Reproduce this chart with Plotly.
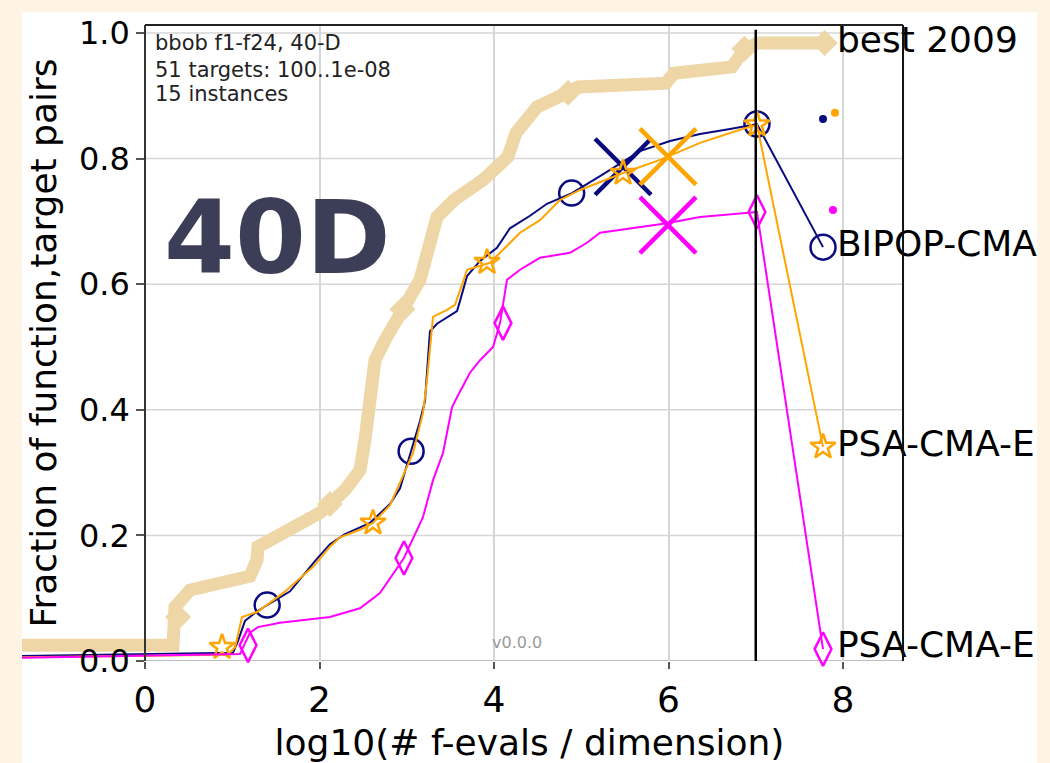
import plotly.graph_objects as go

# ---------------- data (log10 f-evals/dim, fraction of function-target pairs) ----------------
best_x = [-1.410, 0.321, 0.344, 0.516, 1.203, 1.284, 1.295, 1.662, 2.006, 2.292, 2.464, 2.521,
          2.579, 2.602, 2.636, 2.751, 2.923, 3.060, 3.152, 3.347, 3.542, 3.874, 4.160, 4.252,
          4.493, 4.733, 4.963, 5.971, 6.063, 6.728, 6.865, 7.014, 7.771]
best_y = [0.025, 0.025, 0.086, 0.113, 0.135, 0.161, 0.182, 0.209, 0.236, 0.272, 0.304, 0.352,
          0.404, 0.447, 0.479, 0.511, 0.556, 0.586, 0.607, 0.707, 0.734, 0.766, 0.803, 0.841,
          0.882, 0.898, 0.914, 0.920, 0.936, 0.946, 0.973, 0.984, 0.984]
best_mk_x = [0.38, 2.12, 2.95, 4.85, 6.87, 7.79]
best_mk_y = [0.07, 0.25, 0.56, 0.905, 0.975, 0.984]

bipop_x = [-1.410, 1.009, 1.066, 1.146, 1.295, 1.662, 1.948, 2.120, 2.292, 2.579, 2.808, 2.923,
           3.049, 3.152, 3.209, 3.266, 3.347, 3.576, 3.610, 3.691, 3.840, 4.034, 4.183, 4.413,
           4.607, 4.894, 5.215, 5.673, 6.017, 6.361, 6.705, 7.014, 7.771]
bipop_y = [0.008, 0.013, 0.032, 0.064, 0.080, 0.111, 0.159, 0.186, 0.202, 0.220, 0.250, 0.275,
           0.334, 0.382, 0.414, 0.525, 0.537, 0.557, 0.573, 0.613, 0.637, 0.658, 0.689, 0.709,
           0.728, 0.745, 0.772, 0.812, 0.828, 0.839, 0.847, 0.855, 0.659]
bipop_mk_x = [1.40, 3.05, 4.89, 7.014, 7.771]
bipop_mk_y = [0.089, 0.334, 0.745, 0.855, 0.659]
bipop_cross = (5.479, 0.787)
bipop_dot = (7.771, 0.863)

psa1_x = [-1.410, 0.951, 1.032, 1.112, 1.284, 1.582, 1.926, 2.120, 2.235, 2.464, 2.613, 2.808,
          3.072, 3.186, 3.232, 3.266, 3.301, 3.461, 3.553, 3.633, 3.691, 3.954, 4.298, 4.527,
          4.756, 4.986, 5.479, 5.903, 6.361, 6.819, 7.014, 7.771]
psa1_y = [0.006, 0.010, 0.022, 0.070, 0.078, 0.108, 0.150, 0.182, 0.197, 0.209, 0.220, 0.248,
          0.331, 0.395, 0.447, 0.500, 0.548, 0.559, 0.567, 0.599, 0.623, 0.634, 0.682, 0.702,
          0.734, 0.750, 0.777, 0.798, 0.825, 0.846, 0.854, 0.341]
psa1_mk_x = [0.883, 2.613, 3.920, 5.479, 7.014, 7.771]
psa1_mk_y = [0.022, 0.220, 0.635, 0.777, 0.854, 0.341]
psa1_cross = (5.994, 0.803)
psa1_dot = (7.908, 0.873)

psa2_x = [-1.410, 1.089, 1.135, 1.203, 1.295, 1.547, 2.120, 2.464, 2.693, 2.968, 3.186, 3.301,
          3.415, 3.519, 3.576, 3.725, 3.840, 3.989, 4.069, 4.103, 4.149, 4.298, 4.527, 4.871,
          5.066, 5.215, 5.673, 5.983, 6.361, 6.819, 7.014, 7.771]
psa2_y = [0.005, 0.011, 0.025, 0.045, 0.054, 0.061, 0.070, 0.084, 0.108, 0.164, 0.229, 0.288,
          0.331, 0.404, 0.420, 0.459, 0.479, 0.500, 0.538, 0.570, 0.607, 0.623, 0.642, 0.650,
          0.666, 0.682, 0.691, 0.697, 0.707, 0.713, 0.715, 0.019]
psa2_mk_x = [1.181, 2.968, 4.103, 7.014, 7.771]
psa2_mk_y = [0.025, 0.164, 0.538, 0.715, 0.019]
psa2_cross = (5.994, 0.694)
psa2_dot = (7.885, 0.718)

label_names = ["best 2009", "BIPOP-CMA", "PSA-CMA-E", "PSA-CMA-E"]
label_y = [0.984, 0.659, 0.341, 0.021]
label_x = 7.93

x_ticks = [0, 2, 4, 6, 8]
y_ticks = [0.0, 0.2, 0.4, 0.6, 0.8, 1.0]
budget_x = 7.0
x_right = 8.688

header_lines = ["bbob f1-f24, 40-D", "51 targets: 100..1e-08", "15 instances"]
header_y = [0.984, 0.941, 0.903]

# ---------------- style ----------------
FONT = "DejaVu Sans"
NAVY = "#0a0a80"
ORANGE = "#ffa500"
MAGENTA = "#ff00ff"
WHEAT = "#efd6a6"
CREAM = "#fdf4e3"

W, H = 1050, 763
L, R, T, B = 22, 13, 25, 102
x_range = [-1.4097, 10.2235]
y_range = [0.0, 1.0127]

fig = go.Figure()

# best 2009
fig.add_trace(go.Scatter(x=best_x, y=best_y, mode="lines",
                         line=dict(color=WHEAT, width=13), hoverinfo="skip", showlegend=False))
fig.add_trace(go.Scatter(x=best_mk_x, y=best_mk_y, mode="markers", cliponaxis=False,
                         marker=dict(symbol="diamond", size=20, color=WHEAT,
                                     line=dict(width=0)), showlegend=False))

def add_algo(xs, ys, mx, my, sym, msize, color, cross, dot):
    fig.add_trace(go.Scatter(x=xs, y=ys, mode="lines", line=dict(color=color, width=2),
                             showlegend=False))
    fig.add_trace(go.Scatter(x=mx, y=my, mode="markers", cliponaxis=False,
                             marker=dict(symbol=sym, size=msize, color=color,
                                         line=dict(color=color, width=2.5)),
                             showlegend=False))
    fig.add_trace(go.Scatter(x=[cross[0]], y=[cross[1]], mode="markers", cliponaxis=False,
                             marker=dict(symbol="x-thin-open", size=56, color=color,
                                         line=dict(color=color, width=4.5)),
                             showlegend=False))
    fig.add_trace(go.Scatter(x=[dot[0]], y=[dot[1]], mode="markers", cliponaxis=False,
                             marker=dict(symbol="circle", size=8, color=color,
                                         line=dict(width=0)),
                             showlegend=False))

add_algo(bipop_x, bipop_y, bipop_mk_x, bipop_mk_y, "circle-open", 25, NAVY, bipop_cross, bipop_dot)
add_algo(psa1_x, psa1_y, psa1_mk_x, psa1_mk_y, "star-open", 19, ORANGE, psa1_cross, psa1_dot)
add_algo(psa2_x, psa2_y, psa2_mk_x, psa2_mk_y, "diamond-tall-open", 24, MAGENTA, psa2_cross, psa2_dot)

# right-hand labels
fig.add_trace(go.Scatter(x=[label_x] * len(label_names), y=label_y, mode="text",
                         text=label_names, textposition="middle right",
                         textfont=dict(family=FONT, size=36, color="black"),
                         cliponaxis=False, showlegend=False, hoverinfo="skip"))

shapes = []
# white panel
shapes.append(dict(type="rect", xref="paper", yref="paper", x0=0, x1=1,
                   y0=(T + (H - T - B) - H) / (H - T - B), y1=(H - B - 12) / (H - T - B),
                   fillcolor="white", line=dict(width=0), layer="below"))
# horizontal grid lines
for yv in y_ticks[1:]:
    shapes.append(dict(type="line", xref="x", yref="y", x0=0, x1=x_right, y0=yv, y1=yv,
                       line=dict(color="#d6d6d6", width=1.5), layer="below"))
# bottom line
shapes.append(dict(type="line", xref="x", yref="y", x0=0, x1=x_right, y0=0, y1=0,
                   line=dict(color="#a8a8a8", width=1.5), layer="below"))
# top and right spines
shapes.append(dict(type="line", xref="x", yref="paper", x0=0, x1=x_right, y0=1, y1=1,
                   line=dict(color="#222", width=2), layer="above"))
shapes.append(dict(type="line", xref="x", yref="paper", x0=x_right, x1=x_right, y0=0, y1=1,
                   line=dict(color="#111", width=2), layer="above"))
# budget line
shapes.append(dict(type="line", xref="x", yref="y", x0=budget_x, x1=budget_x, y0=0, y1=1.005,
                   line=dict(color="black", width=2.5), layer="above"))

annotations = []
for t, yv in zip(header_lines, header_y):
    annotations.append(dict(xref="x", yref="y", x=0.092, y=yv, text=t,
                            showarrow=False, xanchor="left", yanchor="middle",
                            font=dict(family=FONT, size=21, color="#222")))
annotations.append(dict(xref="x", yref="y", x=0.19, y=0.675, text="<b>40D</b>",
                        showarrow=False, xanchor="left", yanchor="middle",
                        font=dict(family=FONT, size=102, color="#3c3e58")))
annotations.append(dict(xref="x", yref="y", x=3.954, y=0.029, text="v0.0.0",
                        showarrow=False, xanchor="left", yanchor="middle",
                        font=dict(family=FONT, size=16, color="#9a9a9a")))

fig.update_layout(
    width=W, height=H,
    margin=dict(l=L, r=R, t=T, b=B, pad=0),
    paper_bgcolor=CREAM, plot_bgcolor="white",
    showlegend=False,
    shapes=shapes, annotations=annotations,
    xaxis=dict(range=x_range, tickvals=x_ticks, ticktext=[str(v) for v in x_ticks],
               ticks="outside", ticklen=7, tickwidth=1.5, tickcolor="#555",
               showgrid=True, gridcolor="#d6d6d6", gridwidth=1.5, zeroline=False,
               showline=False, tickfont=dict(family=FONT, size=36, color="black"),
               title=dict(text="log10(# f-evals / dimension)", standoff=10,
                          font=dict(family=FONT, size=36, color="black")),
               automargin=False),
    yaxis=dict(range=y_range, anchor="free", position=(145 - L) / (W - L - R),
               tickvals=y_ticks, ticktext=["%.1f" % v for v in y_ticks],
               ticks="outside", ticklen=8, tickwidth=1.5, tickcolor="#555",
               showgrid=False, zeroline=False, showline=True, linecolor="#333", linewidth=1.5,
               tickfont=dict(family=FONT, size=32, color="black"),
               title=dict(text="Fraction of function,target pairs", standoff=10,
                          font=dict(family=FONT, size=36, color="black")),
               automargin=False),
)

fig.write_html("out.html")
